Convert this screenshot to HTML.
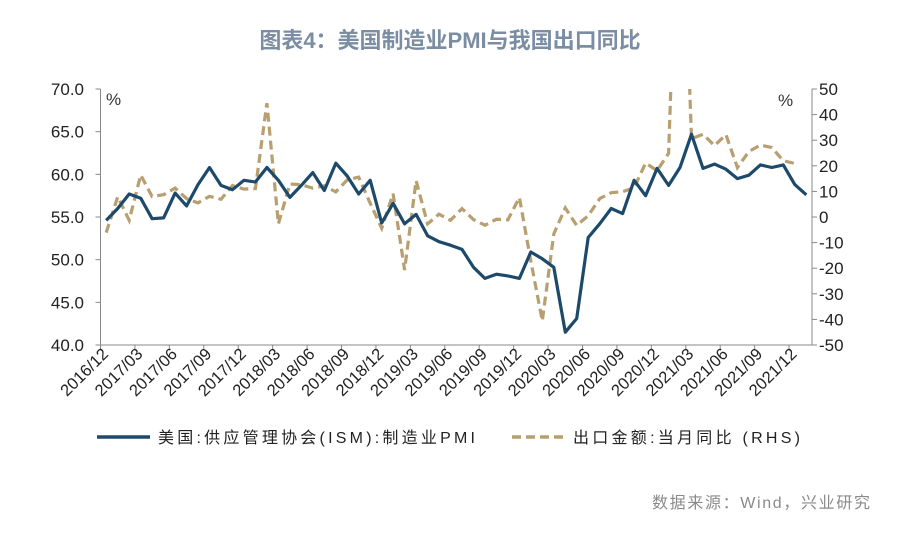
<!DOCTYPE html>
<html><head><meta charset="utf-8"><style>
body{margin:0;background:#fff;}
svg text{font-family:"Liberation Sans","Noto Sans CJK SC",sans-serif;}
</style></head><body>
<svg width="900" height="548" viewBox="0 0 900 548">
<text x="450" y="48" text-anchor="middle" font-size="22" font-weight="bold" fill="#7b8da3">图表4：美国制造业PMI与我国出口同比</text>
<g id="axes"></g>
<defs><clipPath id="clip"><rect x="100" y="89" width="712" height="256"/></clipPath></defs>
<g id="series" clip-path="url(#clip)"></g>
<text x="106" y="105" font-size="17" fill="#333">%</text>
<text x="778" y="106" font-size="17" fill="#333">%</text>
<g>
<line x1="97" y1="437" x2="150" y2="437" stroke="#1d4a6b" stroke-width="3.5"/>
<text x="158" y="443" font-size="16" fill="#222" textLength="317" lengthAdjust="spacing">美国:供应管理协会(ISM):制造业PMI</text>
<line x1="512" y1="437" x2="565" y2="437" stroke="#b79f6f" stroke-width="3.5" stroke-dasharray="9,5"/>
<text x="573" y="443" font-size="16" fill="#222" textLength="227" lengthAdjust="spacing">出口金额:当月同比 (RHS)</text>
</g>
<text x="652" y="508" font-size="16" fill="#8a8a8a" textLength="218" lengthAdjust="spacing">数据来源：Wind，兴业研究</text>
</svg>
<script>
const months=["2016/12","2017/01","2017/02","2017/03","2017/04","2017/05","2017/06","2017/07","2017/08","2017/09","2017/10","2017/11","2017/12","2018/01","2018/02","2018/03","2018/04","2018/05","2018/06","2018/07","2018/08","2018/09","2018/10","2018/11","2018/12","2019/01","2019/02","2019/03","2019/04","2019/05","2019/06","2019/07","2019/08","2019/09","2019/10","2019/11","2019/12","2020/01","2020/02","2020/03","2020/04","2020/05","2020/06","2020/07","2020/08","2020/09","2020/10","2020/11","2020/12","2021/01","2021/02","2021/03","2021/04","2021/05","2021/06","2021/07","2021/08","2021/09","2021/10","2021/11","2021/12","2022/01"];
const pmi=[54.6,56.0,57.7,57.2,54.8,54.9,57.8,56.3,58.8,60.8,58.7,58.2,59.3,59.1,60.8,59.3,57.3,58.7,60.2,58.1,61.3,59.8,57.7,59.3,54.3,56.6,54.2,55.3,52.8,52.1,51.7,51.2,49.1,47.8,48.3,48.1,47.8,50.9,50.1,49.1,41.5,43.1,52.6,54.2,56.0,55.4,59.3,57.5,60.7,58.7,60.8,64.7,60.7,61.2,60.6,59.5,59.9,61.1,60.8,61.1,58.8,57.6];
const exportYoy=[-6.1,7.9,-1.3,16.4,8.0,8.7,11.3,7.2,5.5,8.1,6.9,12.3,10.9,11.1,44.5,-2.7,12.9,12.6,11.3,12.2,9.8,14.5,15.6,5.4,-4.4,9.1,-20.7,14.2,-2.7,1.1,-1.3,3.3,-1.0,-3.2,-0.9,-1.1,7.6,-17.2,-40.6,-6.6,3.5,-3.3,0.5,7.2,9.5,9.9,11.4,21.1,18.1,24.9,154.9,30.6,32.3,27.9,32.2,19.3,25.6,28.1,27.1,22.0,20.9,null];
const leftTicks=["70.0","65.0","60.0","55.0","50.0","45.0","40.0"];
const rightTicks=["50","40","30","20","10","0","-10","-20","-30","-40","-50"];
const NS="http://www.w3.org/2000/svg";
const X0=100.5,X1=812,Y0=89,Y1=345,n=months.length,bw=(X1-X0)/n;
const xc=i=>X0+bw*(i+0.5);
const yL=v=>Y1-(v-40)/30*(Y1-Y0);
const yR=v=>Y1-(v+50)/100*(Y1-Y0);
function mk(tag,at,parent){const e=document.createElementNS(NS,tag);for(const k in at)e.setAttribute(k,at[k]);parent.appendChild(e);return e;}
const ax=document.getElementById('axes'),se=document.getElementById('series');
let l;
l=mk('line',{x1:X0,y1:Y0,x2:X0,y2:Y1,stroke:'#888','stroke-width':1},ax);


l=mk('line',{x1:X1,y1:Y0,x2:X1,y2:Y1,stroke:'#888','stroke-width':1},ax);


l=mk('line',{x1:X0,y1:Y1,x2:X1,y2:Y1,stroke:'#888','stroke-width':1},ax);


leftTicks.forEach(t=>{const y=yL(parseFloat(t));
mk('line',{x1:X0-5,y1:y,x2:X0,y2:y,stroke:'#888'},ax);
const tx=mk('text',{x:84,y:y+6,'text-anchor':'end','font-size':17,fill:'#222'},ax);tx.textContent=t;

});
rightTicks.forEach(t=>{const y=yR(parseFloat(t));
mk('line',{x1:X1,y1:y,x2:X1+5,y2:y,stroke:'#888'},ax);
const tx=mk('text',{x:819,y:y+6,'font-size':17,fill:'#222'},ax);tx.textContent=t;

});
months.forEach((m,i)=>{if(i%3!==0)return;const x=X0+bw*i;
mk('line',{x1:x,y1:Y1,x2:x,y2:Y1+5,stroke:'#888'},ax);
const tx=mk('text',{x:xc(i)+3,y:Y1+10,'text-anchor':'end','font-size':16.5,fill:'#222',transform:`rotate(-45 ${xc(i)+3} ${Y1+10})`},ax);tx.textContent=m;

});
let d='';exportYoy.forEach((v,i)=>{if(v==null)return;d+=(d?'L':'M')+xc(i).toFixed(1)+','+yR(v).toFixed(1);});
const p2=mk('path',{d:d,fill:'none',stroke:'#b79f6f','stroke-width':3.2,'stroke-dasharray':'9,5'},se);


d='';pmi.forEach((v,i)=>{d+=(i?'L':'M')+xc(i).toFixed(1)+','+yL(v).toFixed(1);});
const p1=mk('path',{d:d,fill:'none',stroke:'#1d4a6b','stroke-width':3.2,'stroke-linejoin':'round'},se);


</script>
</body></html>
